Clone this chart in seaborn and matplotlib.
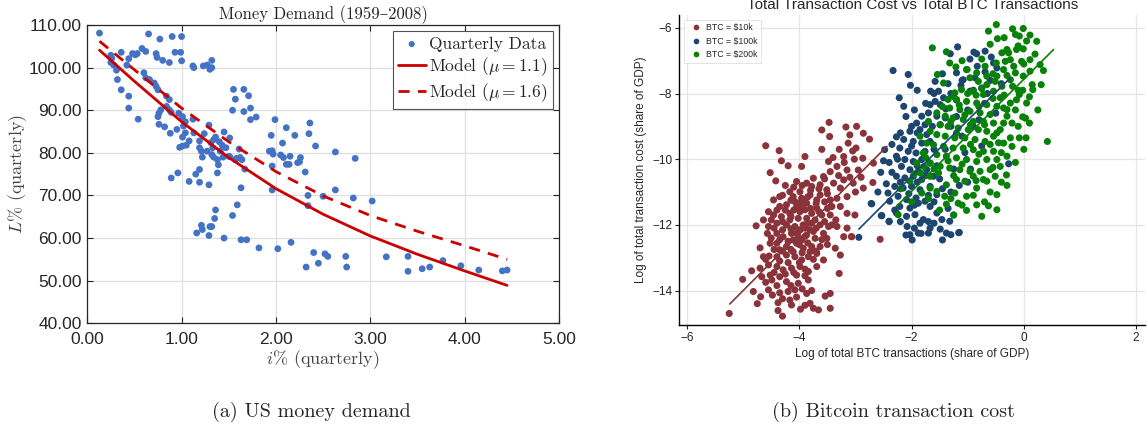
import numpy as np
import pandas as pd
import matplotlib
matplotlib.use("Agg")
import matplotlib.pyplot as plt
import seaborn as sns

# ---- (a) US money demand ----
quarterly_pts = [
    (0.13, 108.1), (0.65, 107.9), (0.77, 106.7), (0.90, 107.3), (1.00, 107.3),
    (0.25, 102.9), (0.26, 102.2), (0.36, 103.6), (0.44, 102.1), (0.48, 103.3), (0.51, 103.0),
    (0.53, 103.3), (0.58, 104.5), (0.62, 103.8), (0.73, 103.3), (0.74, 102.4), (0.80, 101.7),
    (0.87, 101.2), (0.93, 103.6), (0.99, 103.6), (1.00, 101.6),
    (0.25, 101.2), (0.28, 100.6), (0.42, 100.6), (0.31, 99.4), (0.32, 97.2), (0.36, 94.8),
    (0.44, 93.3), (0.44, 90.5), (0.54, 87.9),
    (0.60, 98.8), (0.62, 97.6), (0.66, 97.2), (0.71, 96.4), (0.73, 95.6), (0.75, 94.8),
    (0.84, 93.3), (0.87, 92.5), (0.84, 90.9), (0.78, 90.1), (0.76, 89.3), (0.75, 88.5),
    (0.87, 90.1), (0.89, 89.5), (0.97, 89.3), (1.01, 88.5), (1.04, 87.3),
    (0.76, 86.7), (0.82, 86.1), (0.88, 84.6), (0.95, 85.5), (1.02, 86.3), (1.12, 87.9),
    (1.12, 100.4), (1.13, 100.0), (1.23, 100.4), (1.27, 100.6), (1.32, 101.7), (1.32, 100.0),
    (1.30, 99.6), (1.29, 86.5), (1.24, 84.5), (1.45, 84.9),
    (1.04, 84.7), (1.01, 83.7), (1.08, 82.8), (0.98, 81.3), (1.01, 81.6), (1.05, 81.8),
    (1.13, 84.7), (1.19, 82.8), (1.19, 81.2), (1.21, 80.4), (1.22, 79.0), (1.27, 80.4),
    (1.31, 82.4), (1.34, 83.1), (1.36, 83.7), (1.33, 81.2), (1.32, 79.6), (1.34, 79.0),
    (1.38, 78.4), (1.39, 77.2), (1.41, 80.4), (1.43, 81.8), (1.44, 79.0), (1.47, 81.2),
    (1.50, 79.2), (1.40, 82.6), (1.57, 78.4), (1.51, 83.5), (1.38, 75.3), (0.89, 74.1),
    (0.96, 75.3), (1.08, 73.3), (1.15, 75.0), (1.19, 76.1), (1.19, 73.1), (1.29, 72.5),
    (1.59, 67.8), (1.54, 65.3), (1.36, 66.6), (1.35, 64.6),
    (1.55, 94.9), (1.66, 94.9), (1.57, 92.6), (1.71, 93.4), (1.54, 90.0), (1.66, 89.7),
    (1.73, 90.5), (1.73, 87.8), (1.79, 88.4), (1.99, 87.8), (2.11, 85.9), (2.36, 87.0),
    (1.95, 84.1), (2.20, 84.1), (2.35, 84.5), (2.07, 82.3), (2.42, 81.6), (1.51, 79.1),
    (1.61, 80.9), (1.58, 78.7), (1.62, 78.9), (1.64, 78.4), (1.67, 76.2), (1.93, 80.4),
    (1.96, 80.5), (1.97, 79.7), (2.05, 79.5), (2.08, 78.9), (2.15, 79.2), (2.26, 78.9),
    (2.25, 77.9), (2.23, 77.7), (2.11, 77.3), (2.14, 77.3), (1.96, 76.9), (2.31, 75.5),
    (2.63, 80.2), (2.84, 78.7), (1.63, 71.8), (1.96, 71.3), (2.63, 71.3),
    (2.34, 70.0), (2.50, 69.8), (2.82, 69.4), (3.02, 68.7), (2.34, 67.6),
    (1.21, 63.0), (1.22, 62.0), (1.30, 62.7), (1.32, 62.7), (1.16, 61.2), (1.29, 60.6),
    (1.45, 60.0), (1.63, 59.6), (1.69, 59.6), (1.82, 57.7), (2.02, 57.5), (2.16, 59.0),
    (2.40, 56.6), (2.52, 56.3), (2.55, 55.7), (2.32, 53.2), (2.45, 54.1), (2.74, 55.7),
    (2.75, 53.2), (3.17, 55.6), (3.40, 55.7), (3.40, 52.2), (3.55, 52.8), (3.63, 53.2),
    (3.77, 54.7), (3.96, 53.5), (4.15, 52.5), (4.40, 52.3), (4.45, 52.5),
]
model_i = [0.13, 0.5, 1.0, 1.5, 2.0, 2.5, 3.0, 3.5, 4.0, 4.45]
model_mu11 = [104.1, 96.8, 87.3, 78.9, 71.6, 65.6, 60.5, 56.2, 52.3, 48.9]
model_mu16 = [106.2, 99.5, 90.5, 82.6, 75.6, 69.9, 65.3, 61.6, 58.2, 55.0]

# ---- (b) Bitcoin transaction cost ----
btc10k_pts = [
    (-3.47, -8.88), (-3.60, -9.11), (-3.46, -9.31), (-3.17, -9.02), (-2.98, -9.00), (-3.10, -9.26),
    (-2.86, -9.21), (-2.75, -9.39), (-3.13, -9.51), (-2.99, -9.66), (-3.29, -9.70), (-3.21, -9.92),
    (-3.02, -10.0), (-2.87, -9.97), (-2.68, -10.12), (-3.48, -10.07), (-3.33, -10.22), (-3.15, -10.33),
    (-2.95, -10.33), (-4.60, -9.59), (-4.36, -9.74), (-4.32, -10.05), (-4.20, -10.20), (-3.90, -9.92),
    (-3.96, -10.22), (-4.52, -10.41), (-4.42, -10.66), (-3.45, -10.38), (-3.75, -10.58), (-3.63, -10.78),
    (-3.87, -10.73), (-4.05, -10.68), (-4.17, -10.99), (-3.99, -10.99), (-3.51, -10.93), (-3.27, -10.88),
    (-3.04, -10.73), (-2.86, -10.88), (-2.69, -10.71), (-3.15, -11.14), (-3.33, -11.19), (-3.42, -11.44),
    (-3.69, -11.24), (-3.87, -11.34), (-4.08, -11.29), (-4.23, -11.39), (-4.35, -11.44), (-4.55, -11.60),
    (-4.46, -11.70), (-4.32, -11.75), (-4.17, -11.65), (-3.99, -11.60), (-3.78, -11.65), (-3.60, -11.70),
    (-3.45, -11.70), (-3.01, -11.70), (-4.77, -12.03), (-4.55, -12.05), (-4.40, -11.95), (-4.23, -12.0),
    (-4.08, -12.05), (-3.93, -12.0), (-3.78, -11.95), (-3.63, -12.0), (-3.48, -12.05), (-3.33, -12.05),
    (-4.57, -12.26), (-4.40, -12.26), (-4.29, -12.36), (-4.14, -12.26), (-4.02, -12.36), (-3.87, -12.31),
    (-3.72, -12.41), (-3.51, -12.41), (-3.21, -12.36), (-3.07, -12.36), (-4.40, -12.56), (-4.23, -12.66),
    (-4.05, -12.56), (-3.93, -12.71), (-3.78, -12.66), (-3.63, -12.66), (-3.36, -12.71), (-3.27, -12.92),
    (-4.54, -12.95), (-4.40, -12.97), (-4.23, -12.92), (-4.08, -12.97), (-3.96, -13.07), (-3.84, -12.97),
    (-3.69, -12.87), (-4.70, -13.32), (-4.55, -13.22), (-4.40, -13.27), (-4.29, -13.37), (-4.14, -13.32),
    (-3.99, -13.27), (-3.84, -13.42), (-3.69, -13.27), (-3.29, -13.48), (-5.01, -13.66), (-4.67, -13.58),
    (-4.49, -13.68), (-4.35, -13.58), (-4.23, -13.73), (-4.02, -13.78), (-3.84, -13.68), (-4.82, -14.03),
    (-4.69, -14.19), (-4.55, -13.98), (-4.48, -14.14), (-4.35, -14.07), (-4.20, -14.03), (-4.08, -13.98),
    (-3.87, -14.09), (-3.78, -14.00), (-3.54, -14.17), (-3.45, -14.09), (-4.38, -14.37), (-4.17, -14.29),
    (-4.14, -14.44), (-3.98, -14.57), (-3.81, -14.39), (-3.75, -14.54), (-3.66, -14.59), (-3.45, -14.54),
    (-4.38, -14.61), (-4.30, -14.78), (-5.25, -14.70),
    (-4.11, -11.14), (-3.96, -11.19), (-3.81, -11.09), (-3.63, -11.09), (-4.05, -11.44), (-3.90, -11.54),
    (-3.69, -11.49), (-4.17, -11.85), (-4.02, -11.80), (-3.87, -11.80), (-3.72, -11.85), (-3.96, -12.46),
    (-4.11, -12.82), (-3.81, -12.82), (-3.99, -12.15), (-3.81, -12.15), (-4.35, -12.76), (-3.57, -13.07),
    (-4.52, -13.53), (-4.05, -13.53), (-3.90, -12.10), (-4.11, -12.46), (-3.57, -12.26), (-3.42, -12.0),
    (-3.45, -11.24), (-3.27, -11.44), (-3.39, -10.73), (-3.21, -10.63), (-3.57, -10.53), (-3.78, -10.83),
    (-3.93, -11.24), (-4.35, -11.14), (-4.46, -11.24), (-4.64, -11.85), (-4.52, -12.56), (-4.64, -12.97),
    (-2.56, -12.44), (-3.07, -12.36),
    (-4.25, -10.80), (-4.10, -10.85), (-3.95, -10.80), (-3.80, -10.95), (-3.65, -10.90), (-3.50, -11.05),
    (-4.30, -11.10), (-4.15, -11.25), (-4.00, -11.35), (-3.85, -11.15), (-3.70, -11.35), (-3.55, -11.30),
    (-4.40, -11.55), (-4.25, -11.55), (-4.10, -11.55), (-3.95, -11.45), (-3.80, -11.50), (-3.65, -11.60),
    (-3.50, -11.50), (-4.50, -11.85), (-4.30, -11.90), (-4.15, -11.75), (-3.85, -11.95), (-3.70, -12.10),
    (-3.55, -11.90), (-4.45, -12.10), (-4.30, -12.15), (-4.15, -12.12), (-4.05, -12.25), (-3.90, -12.35),
    (-3.75, -12.20), (-3.60, -12.45), (-4.50, -12.40), (-4.35, -12.45), (-4.20, -12.50), (-4.00, -12.60),
    (-3.85, -12.55), (-3.70, -12.80), (-3.50, -12.60), (-4.45, -12.75), (-4.30, -12.80), (-4.15, -12.75),
    (-3.95, -12.85), (-3.75, -13.05), (-4.60, -13.05), (-4.35, -13.10), (-4.20, -13.15), (-4.00, -13.15),
    (-3.90, -13.35), (-4.45, -13.45), (-4.25, -13.50), (-4.10, -13.45), (-3.90, -13.55), (-4.60, -13.75),
    (-4.40, -13.85), (-4.15, -13.85), (-3.95, -13.95), (-4.30, -14.25), (-4.05, -14.20), (-3.90, -14.45),
    (-3.30, -10.50), (-3.10, -10.55), (-3.55, -10.60), (-3.20, -10.10), (-3.40, -9.95), (-3.05, -9.75),
    (-3.60, -9.70), (-2.90, -10.55), (-3.00, -11.00), (-3.15, -11.65), (-3.35, -11.85), (-3.15, -12.10),
    (-4.70, -12.70), (-4.85, -13.40), (-4.75, -14.40),
]
btc100k_pts = [
    (-2.33, -7.30), (-2.06, -7.42), (-2.02, -7.75), (-1.90, -7.90), (-2.22, -8.13), (-2.14, -8.39),
    (-1.58, -7.63), (-1.35, -7.70), (-1.18, -6.58), (-1.31, -6.79), (-0.89, -6.74), (-0.84, -6.79),
    (-0.69, -6.71), (-0.96, -6.95), (-0.83, -7.17), (-0.69, -7.34), (-0.58, -6.89), (-0.54, -7.07),
    (-0.48, -7.22), (-1.20, -7.37), (-1.12, -7.75), (-1.66, -7.93), (-1.52, -7.93), (-1.43, -8.13),
    (-1.58, -8.24), (-1.67, -8.34), (-1.49, -8.34), (-1.39, -8.47), (-1.82, -8.69), (-1.70, -8.59),
    (-1.55, -8.69), (-1.40, -8.74), (-1.91, -8.90), (-1.76, -8.95), (-1.63, -9.00), (-1.49, -8.95),
    (-2.03, -9.15), (-1.90, -9.20), (-1.73, -9.25), (-2.27, -9.32), (-2.14, -9.40), (-1.97, -9.46),
    (-1.82, -9.51), (-1.67, -9.46), (-2.48, -9.71), (-2.21, -9.66), (-2.06, -9.76), (-1.92, -9.81),
    (-1.76, -9.76), (-2.27, -9.91), (-2.12, -10.01), (-1.97, -10.07), (-1.82, -10.01), (-1.67, -10.12),
    (-2.18, -10.22), (-2.03, -10.32), (-1.88, -10.37), (-1.73, -10.32), (-2.27, -10.52), (-2.12, -10.57),
    (-1.97, -10.52), (-1.82, -10.62), (-1.61, -10.52), (-2.30, -10.83), (-2.15, -10.88), (-2.00, -10.83),
    (-1.85, -10.93), (-1.67, -10.83), (-2.42, -11.03), (-2.24, -11.13), (-2.09, -11.23), (-1.92, -11.18),
    (-1.76, -11.28), (-1.55, -11.08), (-2.71, -11.36), (-2.39, -11.28), (-2.21, -11.44), (-2.03, -11.49),
    (-1.88, -11.34), (-1.67, -11.44), (-2.54, -11.72), (-2.27, -11.64), (-2.09, -11.74), (-1.94, -11.69),
    (-1.79, -11.84), (-1.55, -11.64), (-1.46, -11.84), (-2.40, -11.89), (-2.08, -12.05), (-1.85, -11.95),
    (-1.67, -12.10), (-1.49, -12.13), (-1.32, -11.89), (-1.15, -12.23), (-2.03, -12.30), (-1.88, -12.25),
    (-1.70, -12.25), (-1.38, -12.25), (-2.94, -12.38), (-0.27, -10.14), (-1.16, -12.24), (-1.45, -12.46),
    (-1.99, -12.46), (-2.10, -12.31), (-1.83, -12.26), (-1.70, -11.90), (-2.72, -11.35), (-2.53, -11.72),
    (-2.40, -11.90), (-1.20, -8.20), (-1.00, -8.50), (-0.90, -7.90), (-1.30, -9.00), (-1.10, -9.30),
    (-0.80, -8.80), (-1.40, -9.70), (-1.25, -10.30), (-1.50, -10.60), (-0.70, -8.30), (-0.60, -7.60),
    (-1.10, -7.60), (-1.00, -10.70), (-1.30, -11.00), (-1.02, -7.27), (-0.87, -7.52), (-1.08, -7.58),
    (-0.75, -7.83), (-0.96, -7.93),
    (-2.20, -9.20), (-2.00, -9.00), (-1.85, -9.10), (-2.35, -9.55), (-2.00, -9.60), (-1.60, -9.70),
    (-2.40, -10.10), (-2.25, -10.00), (-1.90, -10.20), (-1.55, -10.20), (-2.35, -10.40), (-2.20, -10.70),
    (-1.90, -10.70), (-1.75, -10.50), (-2.45, -10.75), (-2.05, -11.05), (-1.70, -11.10), (-2.30, -11.55),
    (-1.95, -11.40), (-1.60, -11.30), (-2.20, -11.90), (-1.95, -12.10), (-1.60, -11.95), (-1.30, -12.30),
    (-2.60, -11.00), (-2.55, -10.40), (-2.50, -10.05), (-1.45, -10.90), (-1.35, -11.50), (-1.25, -11.70),
    (-2.10, -8.70), (-1.95, -8.50), (-1.75, -8.30), (-1.60, -8.00), (-1.45, -7.40), (-1.30, -8.00),
    (-1.20, -8.70), (-1.05, -9.80), (-0.90, -9.00), (-0.75, -9.60), (-0.65, -8.00), (-0.50, -8.60),
    (-0.40, -7.70), (-0.95, -10.30), (-1.15, -10.80),
]
btc200k_pts = [
    (-0.49, -5.90), (-0.63, -6.10), (-0.47, -6.33), (-0.20, -6.03), (-0.01, -6.02), (-0.08, -6.25),
    (-0.15, -6.20), (0.11, -6.22), (0.23, -6.41), (-0.30, -6.66), (-0.27, -6.76), (-0.13, -6.66),
    (-0.01, -6.64), (0.11, -6.97), (-0.04, -7.02), (0.29, -7.12), (-1.63, -6.61), (-1.38, -6.73),
    (-1.32, -7.07), (-1.21, -7.19), (-1.01, -7.27), (-1.54, -7.42), (-1.43, -7.68), (-0.49, -7.07),
    (-0.36, -7.27), (-0.18, -7.17), (-0.15, -7.37), (-0.01, -7.47), (0.11, -7.32), (-0.02, -7.90),
    (0.16, -7.88), (-0.08, -8.03), (-0.24, -8.29), (-0.30, -8.49), (-0.02, -8.71), (-0.36, -8.90),
    (-0.42, -9.10), (-0.54, -9.30), (-0.24, -9.35), (-0.08, -9.35), (0.04, -9.35), (0.42, -9.46),
    (-0.30, -9.91), (-0.31, -10.48), (-0.48, -11.08), (-0.63, -11.42), (-0.48, -11.54), (-0.84, -11.39),
    (-0.75, -11.74), (-1.02, -11.56), (-1.17, -11.34), (-1.38, -11.37), (-1.41, -11.13), (-1.23, -11.03),
    (-1.55, -10.98), (-1.67, -10.88), (-1.82, -11.03), (-2.03, -10.67), (-1.84, -10.42), (-1.67, -10.52),
    (-2.24, -11.69), (-1.02, -11.13), (-0.84, -10.88), (-0.66, -10.67), (-1.05, -10.67), (-1.20, -10.62),
    (-1.38, -10.78),
    (-0.96, -7.52), (-0.81, -7.63), (-0.66, -7.73), (-0.51, -7.63), (-0.39, -7.78), (-1.11, -7.88),
    (-0.90, -7.93), (-0.72, -8.03), (-0.54, -7.93), (-0.42, -8.13), (-1.20, -8.18), (-1.02, -8.24),
    (-0.84, -8.29), (-0.66, -8.34), (-0.48, -8.39), (-1.32, -8.44), (-1.14, -8.49), (-0.96, -8.54),
    (-0.78, -8.59), (-0.60, -8.64), (-1.40, -8.69), (-1.26, -8.74), (-1.08, -8.79), (-0.90, -8.85),
    (-0.72, -8.85), (-0.54, -8.90), (-1.49, -8.95), (-1.35, -9.00), (-1.17, -9.05), (-0.99, -9.10),
    (-0.81, -9.10), (-0.66, -9.15), (-1.55, -9.25), (-1.40, -9.30), (-1.23, -9.35), (-1.05, -9.35),
    (-0.87, -9.40), (-0.69, -9.46), (-1.61, -9.56), (-1.43, -9.61), (-1.26, -9.66), (-1.08, -9.66),
    (-0.90, -9.71), (-0.72, -9.76), (-0.54, -9.76), (-1.55, -9.86), (-1.38, -9.91), (-1.20, -9.96),
    (-1.02, -10.01), (-0.84, -10.07), (-0.66, -10.01), (-0.48, -10.01), (-1.67, -10.12), (-1.49, -10.22),
    (-1.32, -10.27), (-1.14, -10.32), (-0.96, -10.37), (-0.78, -10.37), (-0.60, -10.32), (-1.79, -9.81),
    (-1.73, -9.51), (-1.67, -9.15), (-1.55, -8.59), (-1.35, -8.18), (-1.23, -7.98), (-0.36, -8.44),
    (-0.30, -8.69), (-0.21, -8.90), (-0.48, -9.20), (-0.36, -9.51), (-0.21, -9.61), (-0.42, -10.22),
    (-0.51, -10.52), (-0.72, -10.62), (-0.90, -10.52), (-1.52, -10.42), (-1.91, -10.12), (-1.78, -10.22),
    (-0.20, -7.78), (-0.13, -8.19), (-0.24, -7.58), (0.05, -8.29), (-0.69, -7.17), (-0.84, -7.37),
    (-0.66, -7.47), (-0.48, -7.47), (-0.33, -7.02), (-0.39, -6.76), (-0.24, -6.97), (0.15, -7.73),
    (0.31, -7.73), (0.03, -8.75),
    (-1.10, -7.00), (-0.75, -6.95), (-0.60, -6.50), (-0.35, -6.30), (-0.10, -6.55), (0.05, -6.40),
    (0.20, -6.80), (0.35, -7.30), (0.00, -7.10), (-0.30, -7.45), (-0.10, -7.90), (0.10, -8.10),
    (0.25, -8.50), (-0.15, -8.50), (0.10, -8.90), (-0.10, -9.00), (0.00, -9.70), (-0.15, -10.10),
    (-0.40, -10.70), (-0.60, -11.00), (-0.90, -11.10), (-1.10, -11.40), (-1.25, -11.70), (-1.50, -11.55),
    (-1.70, -11.20), (-2.00, -11.30), (-2.20, -10.90), (-1.95, -10.45), (-1.75, -9.95), (-1.85, -9.30),
    (-1.70, -8.85), (-1.45, -8.40), (-1.25, -8.10), (-1.00, -8.00), (-0.75, -7.85), (-0.55, -7.40),
    (-0.35, -8.05), (-0.55, -8.15), (-0.80, -8.40), (-1.05, -8.65), (-1.30, -8.85), (-1.20, -9.20),
    (-0.95, -9.55), (-0.60, -9.55), (-0.40, -9.80), (-0.80, -9.85), (-1.10, -10.15), (-1.35, -10.05),
    (-1.60, -10.30), (-1.25, -10.50), (-0.85, -10.65), (-0.55, -10.25), (-0.30, -10.80), (-0.70, -11.30),
    (-1.30, -11.20), (-0.45, -9.50), (-0.70, -8.95), (-0.95, -8.95), (-1.15, -8.35), (-0.85, -8.05),
]
# fitted lines (end points)
fit_x = {"BTC = \\$10k": [-5.24, -2.44], "BTC = \\$100k": [-2.94, -0.24], "BTC = \\$200k": [-2.27, 0.53]}
fit_y = {"BTC = \\$10k": [-14.41, -9.61], "BTC = \\$100k": [-12.13, -7.52], "BTC = \\$200k": [-11.44, -6.66]}
btc_colors = {"BTC = \\$10k": "#8a333b", "BTC = \\$100k": "#1c4670", "BTC = \\$200k": "#078107"}

sns.set_theme(style="white")
plt.rcParams["font.family"] = ["Liberation Sans", "DejaVu Sans"]
plt.rcParams["mathtext.fontset"] = "cm"
serif = ["cmr10", "DejaVu Serif"]

fig = plt.figure(figsize=(11.48, 4.32), dpi=100)

# ---------- left panel ----------
ax1 = fig.add_axes([0.0760, 0.2516, 0.4109, 0.6905])
qdf = pd.DataFrame(quarterly_pts, columns=["i", "L"])
mdf = pd.DataFrame({"i": model_i, "m11": model_mu11, "m16": model_mu16})

sns.scatterplot(data=qdf, x="i", y="L", ax=ax1, color="#4472c4", s=24, edgecolor="none",
                label="Quarterly Data", zorder=3)
sns.lineplot(data=mdf, x="i", y="m11", ax=ax1, color="#cc0000", lw=2.0,
             label=r"Model ($\mu = 1.1$)", zorder=4)
sns.lineplot(data=mdf, x="i", y="m16", ax=ax1, color="#cc0000", lw=2.0,
             label=r"Model ($\mu = 1.6$)", zorder=4)
ax1.lines[-1].set_dashes((4, 3))

ax1.set_xlim(0, 5)
ax1.set_ylim(40, 110)
ax1.set_xticks(np.arange(0, 5.01, 1))
ax1.set_yticks(np.arange(40, 110.1, 10))
ax1.set_xticklabels([f"{v:.2f}" for v in np.arange(0, 5.01, 1)])
ax1.set_yticklabels([f"{v:.2f}" for v in np.arange(40, 110.1, 10)])
ax1.grid(True, color="#dedede", lw=0.9)
ax1.tick_params(direction="in", bottom=True, left=True, top=True, right=True, length=4,
                width=0.8, labelsize=12.5, colors="#262626")
ax1.tick_params(axis="x", pad=6)
ax1.tick_params(axis="y", pad=4)
for sp in ax1.spines.values():
    sp.set_color("#262626")
    sp.set_linewidth(0.9)
ax1.set_xlabel(r"$i\%$ (quarterly)", fontsize=13, family=serif, color="#444444", labelpad=1)
ax1.set_ylabel(r"$L\%$ (quarterly)", fontsize=13, family=serif, color="#444444", labelpad=0)
ax1.set_title("Money Demand (1959\u20132008)", fontsize=12, family=serif, pad=4)
leg1 = ax1.legend(loc="upper right", prop={"family": serif, "size": 12.5}, frameon=True,
                  fancybox=False, edgecolor="#262626", borderaxespad=0.35, handlelength=1.6,
                  handletextpad=0.2, labelspacing=0.2, borderpad=0.3, markerscale=0.9)
leg1.get_frame().set_linewidth(0.8)

# ---------- right panel ----------
ax2 = fig.add_axes([0.5917, 0.2477, 0.4057, 0.7167])
frames = []
for name, pts in [("BTC = \\$10k", btc10k_pts), ("BTC = \\$100k", btc100k_pts),
                  ("BTC = \\$200k", btc200k_pts)]:
    d = pd.DataFrame(pts, columns=["x", "y"])
    d["group"] = name
    frames.append(d)
bdf = pd.concat(frames, ignore_index=True)

sns.scatterplot(data=bdf, x="x", y="y", hue="group", palette=btc_colors, s=26,
                edgecolor="none", ax=ax2, zorder=3)
for name in fit_x:
    ldf = pd.DataFrame({"x": fit_x[name], "y": fit_y[name]})
    sns.lineplot(data=ldf, x="x", y="y", color=btc_colors[name], lw=1.2, ax=ax2,
                 legend=False, zorder=4)

ax2.set_xlim(-6.14, 2.16)
ax2.set_ylim(-15.05, -5.62)
ax2.set_xticks([-6, -4, -2, 0, 2])
ax2.set_yticks([-14, -12, -10, -8, -6])
ax2.grid(True, color="#e6e6e6", lw=0.9)
ax2.set_axisbelow(True)
sns.despine(ax=ax2)
for sp in ["left", "bottom"]:
    ax2.spines[sp].set_color("black")
    ax2.spines[sp].set_linewidth(1.0)
ax2.tick_params(direction="out", length=3, width=0.8, labelsize=8.5, colors="#222222",
                left=True, bottom=True, pad=2)
ax2.set_xlabel("Log of total BTC transactions (share of GDP)", fontsize=8.5, labelpad=3)
ax2.set_ylabel("Log of total transaction cost (share of GDP)", fontsize=8.5, labelpad=4)
leg2 = ax2.legend(loc="upper left", fontsize=6.3, frameon=True, fancybox=False,
                  edgecolor="#d8d8d8", borderaxespad=0.5, handletextpad=0.1,
                  labelspacing=0.5, markerscale=0.8, borderpad=0.4)
leg2.get_frame().set_linewidth(0.6)
fig.text(0.795, 1 - 9 / 432, "Total Transaction Cost vs Total BTC Transactions",
         ha="center", va="baseline", fontsize=11)

# captions
fig.text(0.271, 1 - 412 / 432, "(a) US money demand", ha="center", va="center",
         fontsize=14.5, family=serif)
fig.text(0.778, 1 - 412 / 432, "(b) Bitcoin transaction cost", ha="center", va="center",
         fontsize=14.5, family=serif)

fig.savefig("out.png", dpi=100)
